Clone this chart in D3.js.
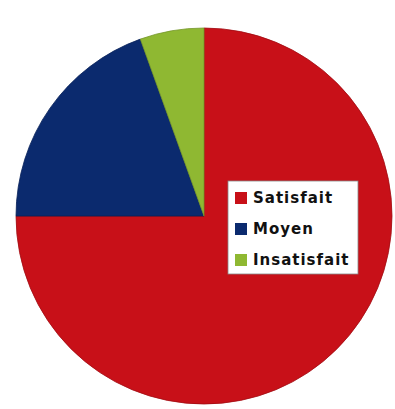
<!DOCTYPE html>
<html>
<head>
<meta charset="utf-8">
<script src="https://cdn.jsdelivr.net/npm/d3@7"></script>
<style>
  body { margin: 0; background: #fff; }
  svg { display: block; }
</style>
</head>
<body>
<svg id="chart" width="395" height="409"></svg>
<script>
// data
var categories = ["Satisfait", "Moyen", "Insatisfait"];
var values = [75, 19.5, 5.5];
var colors = ["#c81018", "#0b2a6e", "#8fb832"];

var svg = d3.select("#chart"),
    width = +svg.attr("width"),
    height = +svg.attr("height");

var cx = 204, cy = 216, radius = 188;

var color = d3.scaleOrdinal()
    .domain(categories)
    .range(colors);

var pie = d3.pie()
    .sort(null)
    .value(function(d) { return d.value; });

var arc = d3.arc()
    .innerRadius(0)
    .outerRadius(radius);

var rows = categories.map(function(c, i) { return {name: c, value: values[i]}; });

// PIE
var g = svg.append("g")
    .attr("transform", "translate(" + [cx, cy] + ")");

g.selectAll(".slice")
    .data(pie(rows))
    .enter().append("path")
    .attr("class", "slice")
    .attr("d", arc)
    .attr("fill", function(d) { return color(d.data.name); })
    .attr("stroke", function(d) { return d3.color(color(d.data.name)).darker(0.6); })
    .attr("stroke-width", 0.8);

// LEGEND
var legend = svg.append("g")
    .attr("transform", "translate(228,181)");

legend.append("rect")
    .attr("width", 130)
    .attr("height", 93)
    .attr("fill", "#fff")
    .attr("stroke", "#888")
    .attr("stroke-width", 0.8);

var item = legend.selectAll(".item")
    .data(categories)
    .enter().append("g")
    .attr("class", "item")
    .attr("transform", function(d, i) { return "translate(7," + (17 + i * 31) + ")"; });

item.append("rect")
    .attr("x", 0)
    .attr("y", -6)
    .attr("width", 12)
    .attr("height", 12)
    .attr("fill", function(d) { return color(d); });

item.append("text")
    .attr("x", 18)
    .attr("dy", "0.36em")
    .attr("font-family", "'Comic Sans MS', 'DejaVu Sans', sans-serif")
    .attr("font-weight", "bold")
    .attr("font-size", 15)
    .attr("letter-spacing", 1)
    .attr("fill", "#111")
    .text(function(d) { return d; });
</script>
</body>
</html>
